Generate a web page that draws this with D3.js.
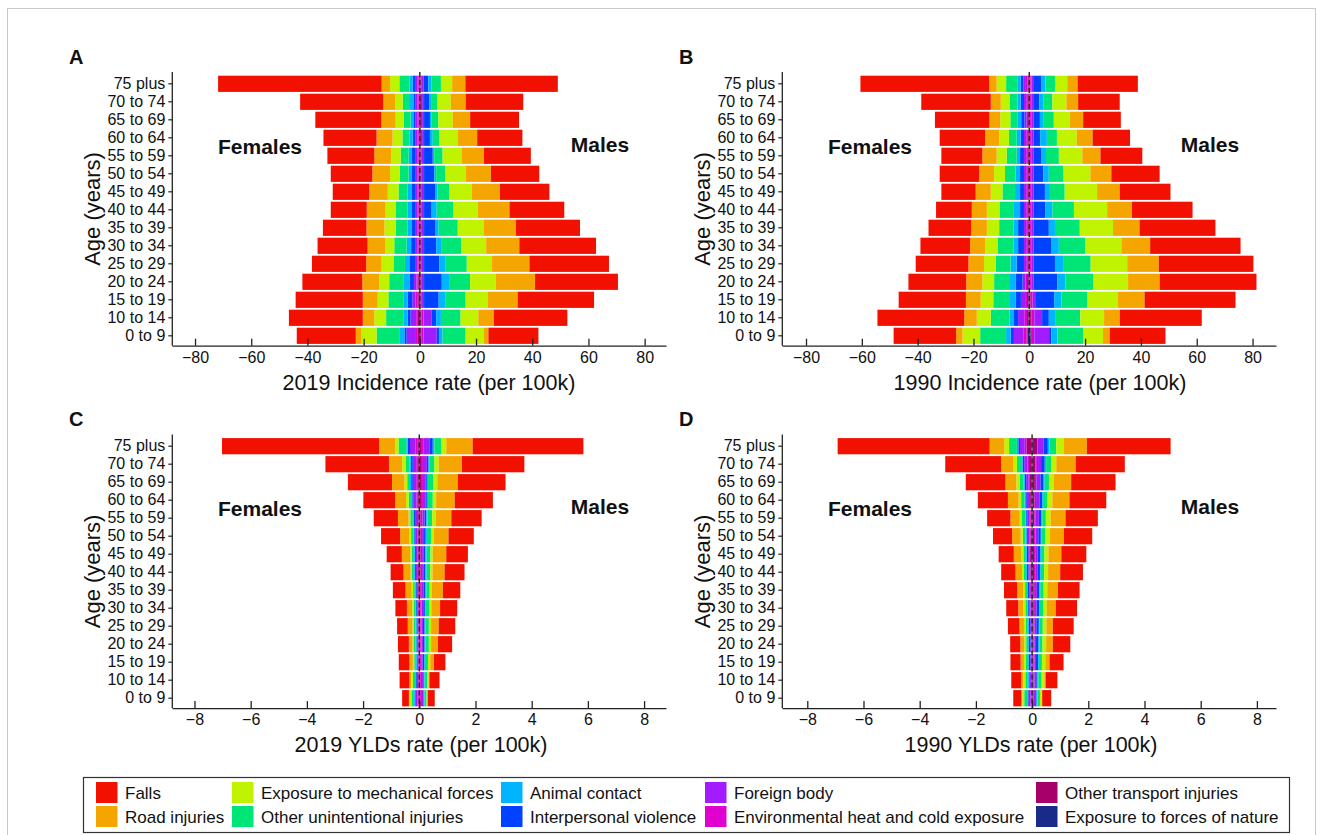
<!DOCTYPE html>
<html><head><meta charset="utf-8">
<script src="https://cdn.jsdelivr.net/npm/d3@7"></script>
<style>
body{margin:0;background:#fff}
svg text{font-family:"Liberation Sans",Arial,sans-serif;fill:#111}
</style></head>
<body><svg id="chart" width="1322" height="835"></svg>
<script>
const ages = ["75 plus","70 to 74","65 to 69","60 to 64","55 to 59","50 to 54","45 to 49","40 to 44","35 to 39","30 to 34","25 to 29","20 to 24","15 to 19","10 to 14","0 to 9"];
const causes = ["Falls","Road injuries","Exposure to mechanical forces","Other unintentional injuries","Animal contact","Interpersonal violence","Foreign body","Environmental heat and cold exposure","Other transport injuries","Exposure to forces of nature"];
const causeColors = ["#f21000","#f5a500","#bff300","#00e676","#00b4ff","#0042ff","#a21cff","#e000d0","#a8006a","#1a2a88"];
const incTicks = [-80,-60,-40,-20,0,20,40,60,80];
const yldTicks = [-8,-6,-4,-2,0,2,4,6,8];

// rows follow ages; columns follow causes
const inc2019Female = [
[58.2,3.0,3.3,3.6,1.2,0.8,0.8,0.5,0.3,0.1],
[29.6,4.2,2.7,2.6,1.2,0.8,0.7,0.4,0.3,0.1],
[23.5,5.1,2.9,2.4,1.0,0.8,0.7,0.4,0.3,0.1],
[18.9,5.7,3.5,2.5,1.2,1.0,0.7,0.4,0.3,0.1],
[16.7,6.0,3.4,2.8,1.2,1.1,0.8,0.4,0.3,0.2],
[14.8,6.3,3.5,3.1,1.2,1.1,0.8,0.4,0.3,0.2],
[13.0,6.6,3.8,3.3,1.5,1.1,0.8,0.4,0.3,0.2],
[12.8,6.7,3.7,4.2,1.5,1.1,0.8,0.4,0.3,0.2],
[15.5,6.4,4.0,4.3,1.5,1.1,0.8,0.4,0.3,0.2],
[17.8,6.2,3.3,4.4,1.6,1.4,0.8,0.4,0.3,0.2],
[19.3,5.5,4.2,4.1,1.8,1.8,0.8,0.4,0.3,0.2],
[21.3,6.1,3.5,5.0,2.2,1.6,0.9,0.4,0.4,0.4],
[23.9,5.3,3.8,5.3,1.6,1.6,1.2,0.6,0.5,0.4],
[26.3,4.1,4.2,6.1,1.6,1.0,2.0,0.6,0.4,0.3],
[21.0,1.9,5.5,8.3,1.6,0.8,3.0,1.0,0.4,0.3]];
const inc2019Male = [
[32.9,4.7,4.0,3.3,1.2,1.7,0.6,0.4,0.2,0.1],
[20.5,5.3,4.7,2.3,0.7,1.8,0.7,0.4,0.3,0.1],
[17.4,6.2,5.1,2.4,0.6,2.1,0.7,0.4,0.3,0.1],
[16.1,7.0,6.5,2.3,1.0,2.1,0.7,0.4,0.3,0.1],
[16.7,7.8,6.9,3.0,0.5,3.1,0.8,0.4,0.2,0.1],
[17.2,9.0,7.2,3.3,0.7,3.6,0.8,0.4,0.2,0.1],
[17.6,10.0,8.1,4.2,0.6,4.1,0.8,0.4,0.2,0.1],
[19.5,11.3,8.7,5.9,1.8,2.7,0.8,0.4,0.2,0.1],
[22.8,11.5,9.2,6.8,1.3,3.9,0.8,0.4,0.2,0.1],
[27.3,11.8,8.9,6.9,2.0,4.3,0.8,0.4,0.2,0.1],
[28.3,13.3,9.0,7.5,2.3,5.4,0.8,0.4,0.2,0.1],
[29.5,14.0,9.1,7.5,2.6,6.3,0.8,0.4,0.2,0.1],
[27.2,10.7,7.8,7.1,2.5,5.2,0.8,0.4,0.2,0.1],
[26.2,5.5,6.3,7.0,1.7,1.6,2.9,0.8,0.3,0.2],
[17.8,1.6,6.5,8.2,1.3,0.8,4.7,0.8,0.3,0.2]];
const inc1990Female = [
[46.1,2.7,3.4,4.0,1.2,1.0,0.9,0.6,0.4,0.2],
[24.9,3.6,3.1,2.9,1.1,1.2,0.8,0.6,0.3,0.2],
[19.5,3.9,3.6,2.7,1.2,1.2,0.8,0.5,0.3,0.1],
[16.3,5.0,3.5,2.8,1.4,1.2,0.8,0.6,0.3,0.2],
[14.7,5.1,3.6,3.6,1.2,1.4,0.8,0.6,0.3,0.2],
[14.1,5.4,3.9,3.8,1.6,1.4,0.8,0.6,0.3,0.2],
[12.3,5.4,4.2,4.5,1.8,1.4,0.8,0.6,0.3,0.2],
[12.8,5.4,4.5,5.2,2.2,1.4,0.8,0.6,0.3,0.2],
[15.3,5.6,4.4,5.1,1.7,2.1,0.8,0.6,0.3,0.2],
[17.8,5.4,4.4,5.7,1.7,2.1,0.8,0.6,0.3,0.2],
[18.9,5.6,4.2,5.3,2.2,2.6,0.8,0.6,0.3,0.2],
[20.7,5.8,4.2,5.7,2.1,2.4,1.0,0.6,0.5,0.3],
[24.1,5.3,4.5,6.0,2.1,1.8,1.5,0.7,0.5,0.3],
[31.1,4.5,5.0,6.7,1.4,1.7,2.2,1.0,0.5,0.3],
[22.4,2.3,6.3,9.3,1.6,1.2,3.5,1.0,0.4,0.6]];
const inc1990Male = [
[21.6,3.7,4.4,3.4,1.4,3.0,0.6,0.4,0.3,0.1],
[14.9,4.2,5.0,3.3,1.4,2.2,0.7,0.4,0.2,0.1],
[13.5,4.8,5.7,3.6,1.4,2.3,0.8,0.4,0.2,0.1],
[13.4,5.7,7.1,3.6,2.4,2.4,0.8,0.4,0.2,0.1],
[15.0,6.5,8.4,4.6,1.6,2.9,0.8,0.4,0.2,0.1],
[17.3,7.5,9.8,5.1,2.0,3.5,0.8,0.4,0.2,0.1],
[18.2,8.1,11.6,5.3,1.8,4.1,0.8,0.4,0.2,0.1],
[21.7,8.9,11.9,7.7,2.5,4.3,0.8,0.4,0.2,0.1],
[27.2,9.5,11.9,8.9,2.2,5.5,0.8,0.4,0.2,0.1],
[32.4,10.3,12.9,9.5,2.6,6.5,0.8,0.4,0.2,0.1],
[33.9,11.3,13.1,9.9,2.9,7.7,0.8,0.4,0.2,0.1],
[34.7,11.3,12.5,9.9,2.9,8.6,0.8,0.4,0.2,0.1],
[32.6,9.5,11.0,9.3,2.6,6.5,1.2,0.7,0.3,0.2],
[29.4,5.6,8.5,8.8,2.5,2.4,2.8,1.1,0.4,0.3],
[20.0,2.4,7.1,9.2,2.2,0.8,5.3,0.9,0.4,0.5]];
const yld2019Female = [
[5.59,0.57,0.12,0.28,0.05,0.08,0.20,0.08,0.03,0.02],
[2.26,0.47,0.12,0.14,0.05,0.07,0.12,0.06,0.03,0.02],
[1.57,0.44,0.10,0.10,0.04,0.06,0.12,0.06,0.03,0.02],
[1.13,0.39,0.09,0.09,0.04,0.05,0.10,0.05,0.03,0.02],
[0.86,0.38,0.06,0.09,0.03,0.05,0.07,0.04,0.02,0.02],
[0.68,0.33,0.06,0.08,0.03,0.05,0.06,0.03,0.02,0.02],
[0.54,0.30,0.05,0.08,0.03,0.04,0.05,0.03,0.02,0.02],
[0.46,0.25,0.05,0.07,0.03,0.04,0.04,0.03,0.03,0.02],
[0.45,0.22,0.05,0.06,0.03,0.04,0.04,0.02,0.02,0.01],
[0.41,0.19,0.05,0.06,0.03,0.04,0.03,0.02,0.01,0.01],
[0.38,0.17,0.05,0.06,0.03,0.04,0.03,0.01,0.01,0.01],
[0.39,0.13,0.05,0.06,0.03,0.04,0.03,0.01,0.01,0.01],
[0.38,0.12,0.05,0.06,0.03,0.03,0.03,0.01,0.01,0.01],
[0.35,0.06,0.06,0.08,0.03,0.03,0.05,0.02,0.01,0.01],
[0.24,0.03,0.06,0.09,0.03,0.02,0.08,0.03,0.02,0.01]];
const yld2019Male = [
[3.94,0.94,0.18,0.24,0.06,0.12,0.20,0.10,0.04,0.02],
[2.22,0.83,0.15,0.17,0.04,0.06,0.14,0.07,0.04,0.02],
[1.70,0.73,0.14,0.19,0.04,0.05,0.09,0.07,0.04,0.02],
[1.36,0.66,0.12,0.17,0.04,0.05,0.09,0.07,0.04,0.02],
[1.08,0.56,0.12,0.17,0.04,0.06,0.08,0.06,0.03,0.02],
[0.90,0.52,0.10,0.15,0.04,0.06,0.07,0.05,0.03,0.02],
[0.77,0.48,0.08,0.14,0.04,0.06,0.06,0.05,0.03,0.02],
[0.71,0.43,0.08,0.13,0.04,0.06,0.06,0.05,0.03,0.02],
[0.62,0.39,0.08,0.12,0.04,0.06,0.06,0.04,0.03,0.02],
[0.61,0.31,0.08,0.12,0.03,0.06,0.06,0.04,0.02,0.02],
[0.59,0.27,0.08,0.12,0.03,0.06,0.05,0.04,0.02,0.02],
[0.51,0.24,0.08,0.12,0.03,0.06,0.05,0.04,0.02,0.02],
[0.41,0.13,0.08,0.11,0.03,0.05,0.05,0.04,0.02,0.01],
[0.36,0.03,0.05,0.09,0.03,0.03,0.07,0.03,0.02,0.01],
[0.25,0.01,0.03,0.07,0.03,0.02,0.08,0.03,0.02,0.01]];
const yld1990Female = [
[5.41,0.52,0.17,0.28,0.05,0.06,0.17,0.06,0.18,0.02],
[1.99,0.44,0.12,0.15,0.05,0.06,0.12,0.05,0.09,0.02],
[1.41,0.39,0.12,0.14,0.04,0.05,0.09,0.04,0.06,0.02],
[1.07,0.38,0.09,0.12,0.03,0.05,0.08,0.04,0.05,0.02],
[0.83,0.33,0.08,0.12,0.03,0.05,0.06,0.04,0.04,0.02],
[0.68,0.30,0.08,0.10,0.03,0.05,0.05,0.04,0.04,0.02],
[0.54,0.26,0.08,0.09,0.03,0.05,0.04,0.03,0.04,0.03],
[0.51,0.23,0.07,0.08,0.03,0.05,0.04,0.03,0.03,0.03],
[0.47,0.21,0.07,0.07,0.03,0.05,0.03,0.03,0.02,0.02],
[0.43,0.18,0.07,0.07,0.03,0.05,0.03,0.02,0.02,0.02],
[0.41,0.16,0.07,0.07,0.03,0.05,0.03,0.02,0.01,0.01],
[0.36,0.14,0.07,0.07,0.03,0.05,0.03,0.01,0.01,0.01],
[0.36,0.12,0.07,0.08,0.03,0.04,0.03,0.02,0.01,0.01],
[0.35,0.08,0.07,0.09,0.03,0.03,0.05,0.02,0.01,0.01],
[0.29,0.03,0.07,0.10,0.03,0.02,0.08,0.03,0.01,0.01]];
const yld1990Male = [
[2.98,0.83,0.26,0.24,0.06,0.15,0.20,0.02,0.17,0.02],
[1.75,0.69,0.18,0.18,0.05,0.13,0.15,0.05,0.10,0.02],
[1.58,0.62,0.17,0.15,0.04,0.11,0.15,0.05,0.08,0.02],
[1.31,0.61,0.19,0.14,0.03,0.09,0.13,0.05,0.07,0.02],
[1.15,0.53,0.17,0.13,0.03,0.09,0.11,0.05,0.06,0.02],
[1.01,0.50,0.16,0.13,0.03,0.09,0.10,0.05,0.05,0.02],
[0.89,0.46,0.14,0.12,0.03,0.09,0.09,0.04,0.05,0.02],
[0.81,0.43,0.14,0.12,0.03,0.09,0.08,0.04,0.05,0.02],
[0.77,0.38,0.13,0.12,0.03,0.09,0.07,0.04,0.04,0.02],
[0.76,0.32,0.13,0.11,0.03,0.09,0.06,0.04,0.04,0.02],
[0.74,0.23,0.13,0.11,0.03,0.09,0.06,0.04,0.03,0.02],
[0.62,0.24,0.13,0.11,0.03,0.09,0.05,0.04,0.03,0.02],
[0.50,0.15,0.12,0.11,0.03,0.07,0.05,0.04,0.03,0.02],
[0.42,0.04,0.10,0.12,0.03,0.04,0.07,0.03,0.03,0.02],
[0.32,0.02,0.06,0.09,0.03,0.02,0.08,0.03,0.02,0.01]];

const svg = d3.select("#chart");
// outer frame
svg.append("rect").attr("x",7.5).attr("y",8.5).attr("width",1308).attr("height",830)
  .attr("fill","none").attr("stroke","#c8c8c8").attr("stroke-width",1);

const panels = [
  {letter:"A", f:inc2019Female, m:inc2019Male, dom:[-88.2,87.6], dx:0, dy:0, title:"2019 Incidence rate (per 100k)", ticks:incTicks, titleX:429},
  {letter:"B", f:inc1990Female, m:inc1990Male, dom:[-88.6,88.4], dx:610, dy:0, title:"1990 Incidence rate (per 100k)", ticks:incTicks, titleX:1040},
  {letter:"C", f:yld2019Female, m:yld2019Male, dom:[-8.8,8.78], dx:0, dy:362.4, title:"2019 YLDs rate (per 100k)", ticks:yldTicks, titleX:421},
  {letter:"D", f:yld1990Female, m:yld1990Male, dom:[-8.9,8.68], dx:610, dy:362.4, title:"1990 YLDs rate (per 100k)", ticks:yldTicks, titleX:1031}
];

const stackOrder = d3.range(causes.length).reverse(); // innermost: forces of nature ... outermost: falls
const stack = d3.stack().keys(stackOrder).value((row,k)=>row[k]);

panels.forEach(p=>{
  const g = svg.append("g");
  const x = d3.scaleLinear().domain(p.dom).range([172+p.dx, 666+p.dx]);
  const y = d3.scaleBand().domain(ages).range([74.8+p.dy, 344.8+p.dy]).paddingInner(0.1).paddingOuter(0.05);
  const axisY = 345.7+p.dy;

  [["f",-1],["m",1]].forEach(([key,sign])=>{
    const series = stack(p[key]);
    series.forEach(s=>{
      const ci = s.key;
      g.append("g").selectAll("rect").data(s).join("rect")
        .attr("x",(d)=> sign<0 ? x(-d[1]) : x(d[0]))
        .attr("width",(d)=> Math.abs(x(d[1])-x(d[0])))
        .attr("y",(d,i)=>y(ages[i]))
        .attr("height",y.bandwidth())
        .attr("fill",causeColors[ci]);
    });
  });

  // dashed zero line
  g.append("line").attr("x1",x(0)).attr("x2",x(0)).attr("y1",72+p.dy).attr("y2",axisY)
    .attr("stroke","#222").attr("stroke-width",1.4).attr("stroke-dasharray","5,3");

  // x axis
  const xa = g.append("g").attr("transform",`translate(0,${axisY})`)
    .call(d3.axisBottom(x).tickValues(p.ticks).tickSize(-7).tickSizeOuter(0).tickPadding(6));
  xa.select(".domain").attr("stroke","#222").attr("stroke-width",1.3);
  xa.selectAll(".tick line").attr("stroke","#222").attr("stroke-width",1.3);
  xa.selectAll("text").style("font-size","16px").attr("fill","#111");

  // y axis
  const ya = g.append("g").attr("transform",`translate(${172.3+p.dx},0)`)
    .call(d3.axisLeft(y).tickSize(4).tickSizeOuter(0).tickPadding(3));
  ya.select(".domain").remove();
  ya.selectAll(".tick line").attr("stroke","#222").attr("stroke-width",1.2);
  ya.selectAll("text").style("font-size","16px").attr("fill","#111");
  g.append("line").attr("x1",172.3+p.dx).attr("x2",172.3+p.dx).attr("y1",72+p.dy).attr("y2",axisY)
    .attr("stroke","#222").attr("stroke-width",1.3);

  // titles
  g.append("text").attr("x",p.titleX).attr("y",390+p.dy).attr("text-anchor","middle")
    .style("font-size","21.5px").text(p.title);
  g.append("text").attr("transform",`translate(${100+p.dx},${209+p.dy}) rotate(-90)`)
    .attr("text-anchor","middle").style("font-size","22px").text("Age (years)");
  g.append("text").attr("x",69+p.dx).attr("y",64+p.dy).style("font-size","20px").style("font-weight","bold").text(p.letter);
  g.append("text").attr("x",260+p.dx).attr("y",154+p.dy).attr("text-anchor","middle")
    .style("font-size","21px").style("font-weight","bold").text("Females");
  g.append("text").attr("x",600+p.dx).attr("y",152+p.dy).attr("text-anchor","middle")
    .style("font-size","21px").style("font-weight","bold").text("Males");
});

// legend
const lg = svg.append("g");
lg.append("rect").attr("x",83.5).attr("y",777.5).attr("width",1206).attr("height",55)
  .attr("fill","#fff").attr("stroke","#333").attr("stroke-width",1.2);
const colX = [96,232,501,705,1036];
causes.forEach((c,i)=>{
  const col = Math.floor(i/2), row = i%2;
  const gx = colX[col], gy = 782 + row*24;
  lg.append("rect").attr("x",gx).attr("y",gy).attr("width",21.5).attr("height",21).attr("fill",causeColors[i]);
  lg.append("text").attr("x",gx+29).attr("y",gy+17).style("font-size","17px").text(c);
});
</script></body></html>
